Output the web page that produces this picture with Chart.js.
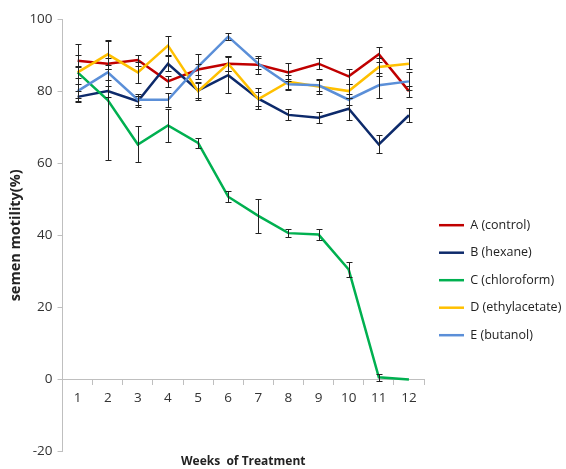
<!DOCTYPE html>
<html>
<head>
<meta charset="utf-8">
<script src="https://cdn.jsdelivr.net/npm/chart.js@4"></script>
<style>
  html, body { margin: 0; padding: 0; background: #fff; }
  #wrap { width: 566px; height: 469px; }
</style>
</head>
<body>
<div id="wrap"><canvas id="motilityChart"></canvas></div>
<script>
// weeks of treatment
const weeks = ['1', '2', '3', '4', '5', '6', '7', '8', '9', '10', '11', '12']
const yTicks = [-20, 0, 20, 40, 60, 80, 100]

// mean semen motility (%) per group
const control = [88.4, 87.6, 88.6, 82.7, 86, 87.6, 87.3, 85.2, 87.6, 84.1, 90.2, 80]
const hexane = [78.4, 80, 77.2, 87.6, 80.2, 84.4, 77.9, 73.4, 72.6, 75.1, 65.2, 73.3]
const chloroform = [85.2, 77.5, 65.2, 70.5, 65.6, 50.7, 45.4, 40.6, 40.2, 30.5, 0.6, 0]
const ethylacetate = [85.2, 90.2, 85.2, 92.6, 80, 87.6, 77.8, 82.6, 81.3, 80, 86.7, 87.6]
const butanol = [80, 85.2, 77.6, 77.6, 86.8, 95.1, 87.6, 81.9, 81.6, 77.6, 81.6, 82.7]

// error bar half-widths
const controlErr = [1.5, 1.5, 1.5, 1.5, 1.5, 2, 2.5, 2.5, 1.5, 2, 2, 1.5]
const hexaneErr = [1.5, 1.5, 1.5, 2, 2, 5, 3, 1.5, 1.5, 3, 2.5, 2]
const chloroformErr = [8, 16.5, 5, 4.5, 1.5, 1.5, 4.7, 1.2, 1.5, 2, 1, 0]
const ethylacetateErr = [1.5, 4, 3, 2.7, 2.5, 2, 2, 2, 2, 2, 2.5, 1.5]
const butanolErr = [2, 2, 1.5, 2, 3.5, 1, 1.5, 1.5, 1.5, 1.5, 3.5, 2.5]

const FONT = "'Open Sans', 'Liberation Sans', sans-serif"

function series(label, data, err, color, order) {
  return {
    label: label,
    data: data,
    errors: err,
    borderColor: color,
    backgroundColor: color,
    borderWidth: 2.5,
    pointRadius: 0,
    tension: 0,
    fill: false,
    order: order,
    xAxisID: 'x',
    yAxisID: 'y',
  }
}

// black error bars with caps
const errorBars = {
  id: 'errorBars',
  afterDatasetsDraw(chart) {
    const ctx = chart.ctx
    const y = chart.scales.y
    ctx.save()
    ctx.strokeStyle = '#222'
    ctx.lineWidth = 1
    chart.data.datasets.forEach((ds, di) => {
      const meta = chart.getDatasetMeta(di)
      meta.data.forEach((pt, i) => {
        const e = ds.errors[i]
        if (!e) return
        const top = Math.round(y.getPixelForValue(ds.data[i] + e)) + 0.5
        const bot = Math.round(y.getPixelForValue(ds.data[i] - e)) + 0.5
        const x = Math.round(pt.x) + 0.5
        ctx.beginPath()
        ctx.moveTo(x, top); ctx.lineTo(x, bot)
        ctx.moveTo(x - 3, top); ctx.lineTo(x + 3, top)
        ctx.moveTo(x - 3, bot); ctx.lineTo(x + 3, bot)
        ctx.stroke()
      })
    })
    ctx.restore()
  },
}

new Chart(document.getElementById('motilityChart'), {
  type: 'line',
  data: {
    labels: weeks,
    datasets: [
      series('A (control)', control, controlErr, '#c00000', 5),
      series('B (hexane)', hexane, hexaneErr, '#0d2a6b', 4),
      series('C (chloroform)', chloroform, chloroformErr, '#00b050', 3),
      series('D (ethylacetate)', ethylacetate, ethylacetateErr, '#ffc000', 2),
      series('E (butanol)', butanol, butanolErr, '#5b8fd8', 1),
    ],
  },
  options: {
    responsive: true,
    maintainAspectRatio: false,
    animation: false,
    layout: { padding: { top: 19, left: 7, right: 3, bottom: 0 } },
    plugins: {
      tooltip: { enabled: false },
      legend: {
        position: 'right',
        align: 'center',
        title: { display: true, text: '', padding: { top: 29, bottom: 29 } },
        labels: {
          usePointStyle: true,
          pointStyle: 'line',
          pointStyleWidth: 25,
          padding: 15,
          color: '#222',
          font: { family: FONT, size: 12.5 },
          sort: (a, b) => a.datasetIndex - b.datasetIndex,
        },
      },
    },
    scales: {
      x: {
        type: 'category',
        position: { y: 0 },
        offset: true,
        grid: { display: true, offset: true, drawOnChartArea: false, drawTicks: true, tickLength: 5, color: '#bfbfbf' },
        border: { color: '#bfbfbf' },
        ticks: { color: '#333', padding: 6, font: { family: FONT, size: 13.5 } },
      },
      x2: {
        type: 'category',
        position: 'bottom',
        labels: weeks,
        offset: true,
        grid: { display: false, drawTicks: false },
        border: { display: false },
        ticks: { display: false, padding: 0 },
        title: {
          display: true,
          text: 'Weeks  of Treatment',
          color: '#222',
          padding: { top: 3, bottom: 0 },
          font: { family: FONT, size: 12, weight: 'bold' },
        },
      },
      y: {
        min: -20,
        max: 100,
        afterBuildTicks: (s) => { s.ticks = yTicks.map((v) => ({ value: v })) },
        grid: { drawOnChartArea: false, drawTicks: true, tickLength: 5, color: '#bfbfbf' },
        border: { color: '#bfbfbf' },
        ticks: { color: '#333', padding: 5, font: { family: FONT, size: 13.5 } },
        title: {
          display: true,
          text: 'semen motility(%)',
          color: '#222',
          padding: { top: 0, bottom: 0 },
          font: { family: FONT, size: 14.5, weight: 'bold' },
        },
      },
    },
  },
  plugins: [errorBars],
})
</script>
</body>
</html>
